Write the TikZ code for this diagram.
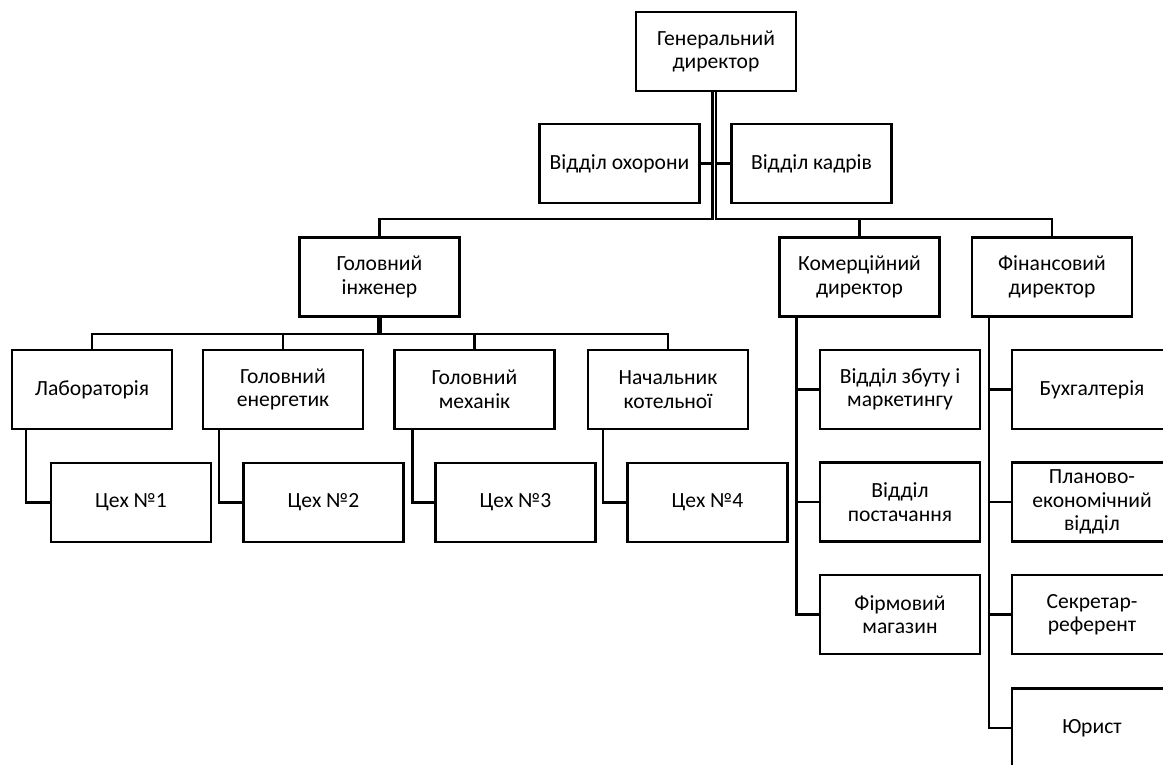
\documentclass[tikz,border=0pt]{standalone}
\usepackage{fontspec}
\setmainfont{Carlito}
\usetikzlibrary{calc}
\tikzset{
  box/.style={draw, line width=1.85pt, minimum width=120pt, minimum height=59.25pt,
    inner sep=2pt, align=center, font=\fontsize{16.2}{17.6}\selectfont},
  conn/.style={line width=1.85pt},
}
\begin{document}
\begin{tikzpicture}[x=0.75pt,y=-0.75pt]
\useasboundingbox (0,0) rectangle (1163,764);
\clip (0,0) rectangle (1163,764);
\fill[white] (0,0) rectangle (1163,764);
% nodes
\node[box] (gd) at (716,51.5) {Генеральний\\директор};
\node[box] (ohor) at (619.5,163.5) {Відділ охорони};
\node[box] (kadr) at (811.5,163.5) {Відділ кадрів};
\node[box] (gi) at (379.5,277) {Головний\\інженер};
\node[box] (kom) at (859.5,277) {Комерційний\\директор};
\node[box] (fin) at (1052,277) {Фінансовий\\директор};
\node[box] (lab) at (92,389.5) {Лабораторія};
\node[box] (en) at (283,389.5) {Головний\\енергетик};
\node[box] (mech) at (474.5,389.5) {Головний\\механік};
\node[box] (kot) at (668,389.5) {Начальник\\котельної};
\node[box] (c1) at (131,502.5) {Цех №1};
\node[box] (c2) at (323.5,502.5) {Цех №2};
\node[box] (c3) at (515.5,502.5) {Цех №3};
\node[box] (c4) at (707.5,502.5) {Цех №4};
\node[box] (zbut) at (900,389.5) {Відділ збуту і\\маркетингу};
\node[box] (post) at (900,502) {Відділ\\постачання};
\node[box] (firm) at (900,614.5) {Фірмовий\\магазин};
\node[box] (buh) at (1092,389.5) {Бухгалтерія};
\node[box] (plan) at (1092,502) {Планово-\\економічний\\відділ};
\node[box] (sekr) at (1092,614.5) {Секретар-\\референт};
\node[box] (jur) at (1092,728) {Юрист};
% top level connectors
\coordinate (gl) at ($(gd.south)+(-3.5,0)$);
\coordinate (gr) at (gd.south);
\draw[conn] (gl) -- ($(gl)+(0,127)$) -| (gi.north);
\draw[conn] (ohor.east) -- (ohor.east -| gl);
\draw[conn] (gr) -- ($(gr)+(0,127)$) -| (fin.north);
\draw[conn] ($(gr)+(0,127)$) -| (kom.north);
\draw[conn] (kadr.west) -- (kadr.west -| gr);
% chief engineer
\coordinate (il) at ($(gi.south)+(-1.5,0)$);
\coordinate (ir) at ($(gi.south)+(1,0)$);
\draw[conn] (il) -- ($(il)+(0,16)$) -| (lab.north);
\draw[conn] ($(il)+(0,16)$) -| (en.north);
\draw[conn] (ir) -- ($(ir)+(0,16)$) -| (kot.north);
\draw[conn] ($(ir)+(0,16)$) -| (mech.north);
% workshops
\draw[conn] ($(lab.south west)+(15,0)$) |- (c1.west);
\draw[conn] ($(en.south west)+(17,0)$) |- (c2.west);
\draw[conn] ($(mech.south west)+(19,0)$) |- (c3.west);
\draw[conn] ($(kot.south west)+(16,0)$) |- (c4.west);
% commercial
\coordinate (kv) at ($(kom.south west)+(18,0)$);
\draw[conn] (kv) |- (firm.west);
\draw[conn] (kv |- zbut.west) -- (zbut.west);
\draw[conn] (kv |- post.west) -- (post.west);
% financial
\coordinate (fv) at ($(fin.south west)+(18,0)$);
\draw[conn] (fv) |- (jur.west);
\draw[conn] (fv |- buh.west) -- (buh.west);
\draw[conn] (fv |- plan.west) -- (plan.west);
\draw[conn] (fv |- sekr.west) -- (sekr.west);
\end{tikzpicture}
\end{document}
